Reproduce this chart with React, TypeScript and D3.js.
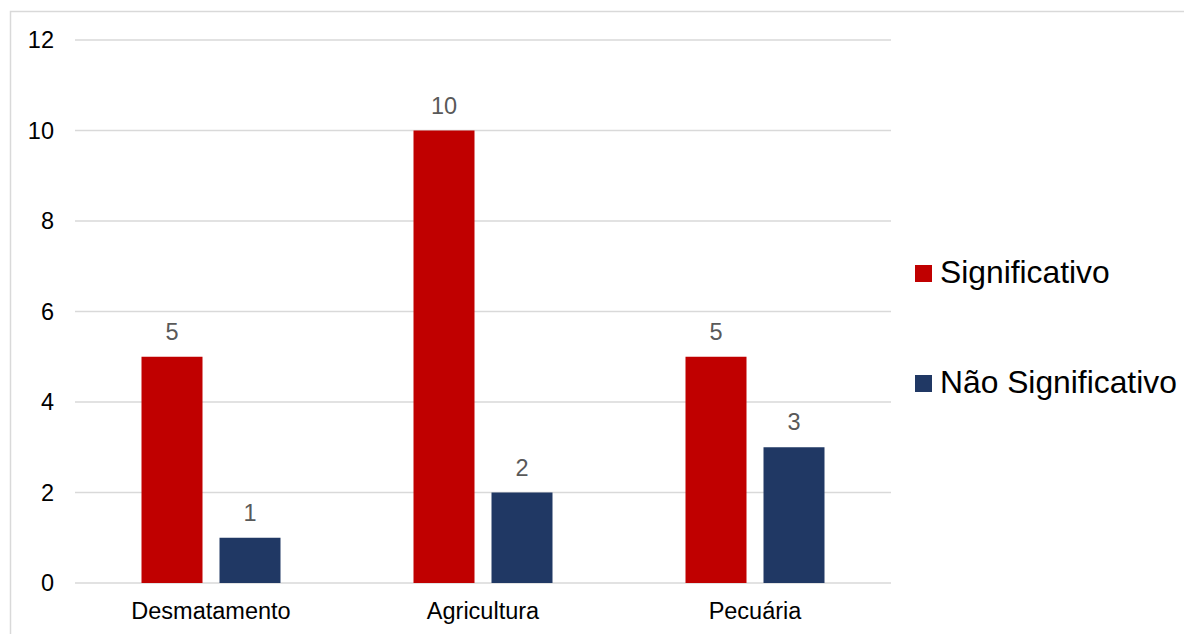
import React from "react";
import * as d3 from "d3";

const categories = ["Desmatamento", "Agricultura", "Pecuária"];
const seriesNames = ["Significativo", "Não Significativo"];
const significativo = [5, 10, 5];
const naoSignificativo = [1, 2, 3];
const yTicks = [0, 2, 4, 6, 8, 10, 12];
const colors = ["#C00000", "#203864"];

export default function App() {
  const W = 1184, H = 634;
  const left = 75, right = 891, top = 40, bottom = 583;
  const x = d3.scaleBand<string>().domain(categories).range([left, right]);
  const y = d3.scaleLinear().domain([0, 12]).range([bottom, top]);
  const inner = d3.scaleBand<string>().domain(seriesNames).range([-69.5, 69.5]).paddingInner(17 / 78).paddingOuter(0);
  const series = [significativo, naoSignificativo];
  const font = "'Liberation Sans', Arial, sans-serif";

  return (
    <svg width={W} height={H} style={{ position: "absolute", left: 0, top: 0, background: "#fff" }} fontFamily={font}>
      <rect x={10.5} y={11.5} width={W} height={H} fill="#fff" stroke="#d9d9d9" strokeWidth={1.5} />
      {yTicks.map((t) => (
        <g key={t}>
          <line x1={left} x2={right} y1={y(t)} y2={y(t)} stroke="#d9d9d9" strokeWidth={1.5} />
          <text x={54} y={y(t)} dy="0.36em" textAnchor="end" fontSize={23.5} fill="#000">{t}</text>
        </g>
      ))}
      {series.map((vals, si) =>
        vals.map((v, ci) => {
          const cx = (x(categories[ci]) as number) + x.bandwidth() / 2;
          const bx = cx + (inner(seriesNames[si]) as number);
          return (
            <g key={si + "-" + ci}>
              <rect x={bx} y={y(v)} width={inner.bandwidth()} height={y(0) - y(v)} fill={colors[si]} />
              <text x={bx + inner.bandwidth() / 2} y={y(v) - 17} textAnchor="middle" fontSize={23.5} fill="#595959">{v}</text>
            </g>
          );
        })
      )}
      {categories.map((c) => (
        <text key={c} x={(x(c) as number) + x.bandwidth() / 2} y={619} textAnchor="middle" fontSize={23.5} fill="#000">{c}</text>
      ))}
      {seriesNames.map((s, i) => (
        <g key={s} transform={`translate(915, ${265 + i * 110})`}>
          <rect x={0} y={0} width={17} height={17} fill={colors[i]} />
          <text x={25} y={18} fontSize={31.8} fill="#000">{s}</text>
        </g>
      ))}
    </svg>
  );
}
